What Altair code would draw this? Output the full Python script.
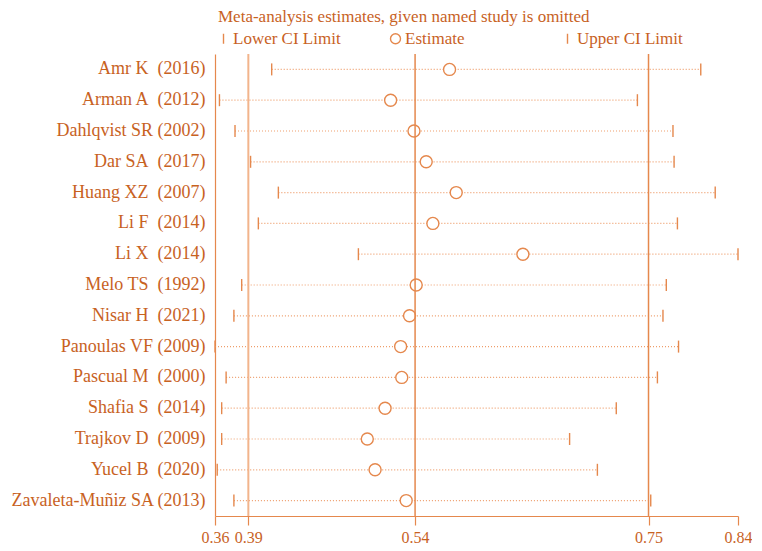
import altair as alt
import pandas as pd

# ---- data ----
names = ["Amr K", "Arman A", "Dahlqvist SR", "Dar SA", "Huang XZ", "Li F", "Li X",
         "Melo TS", "Nisar H", "Panoulas VF", "Pascual M", "Shafia S", "Trajkov D",
         "Yucel B", "Zavaleta-Muñiz SA"]
years = ["2016", "2012", "2002", "2017", "2007", "2014", "2014", "1992", "2021",
         "2009", "2000", "2014", "2009", "2020", "2013"]
double_space = [True, True, False, True, True, True, True, True, True, False,
                True, True, True, True, False]
lower = [0.411, 0.364, 0.378, 0.392, 0.417, 0.399, 0.489, 0.384, 0.377, 0.360,
         0.370, 0.366, 0.366, 0.362, 0.377]
estimate = [0.571, 0.518, 0.539, 0.550, 0.577, 0.556, 0.637, 0.541, 0.535, 0.527,
            0.528, 0.513, 0.497, 0.504, 0.532]
upper = [0.797, 0.740, 0.772, 0.773, 0.810, 0.776, 0.8305, 0.766, 0.763, 0.777,
         0.758, 0.721, 0.679, 0.704, 0.752]
ref_values = [0.39, 0.54, 0.75]          # overall lower CI, estimate, upper CI
tick_values = [0.36, 0.39, 0.54, 0.75, 0.8305]
tick_labels = ["0.36", "0.39", "0.54", "0.75", "0.84"]
legend_names = ["Lower CI Limit", "Estimate", "Upper CI Limit"]
title_text = "Meta-analysis estimates, given named study is omitted"

# ---- styling ----
TXT = "#C8621F"
LINE = "#E5884D"
LIGHT = "#F2B48C"
DOT = "#EE9E6C"
FONT = "Liberation Serif"

labels = [f"{n}\u00a0 ({y})" if d else f"{n} ({y})" for n, y, d in zip(names, years, double_space)]

df = pd.DataFrame({"study": labels, "lower": lower, "estimate": estimate, "upper": upper})
long = df.melt(id_vars="study", value_vars=["lower", "estimate", "upper"],
               var_name="k", value_name="value")
long["kind"] = long["k"].map({"lower": legend_names[0], "estimate": legend_names[1],
                              "upper": legend_names[2]})

refs = pd.DataFrame({"value": ref_values,
                     "col": [LIGHT, LINE, LINE],
                     "w": [2.0, 1.5, 1.5]})

label_expr = " : ".join(f"abs(datum.value - {v}) < 0.001 ? '\u00a0\u00a0{l}'"
                        for v, l in zip(tick_values, tick_labels)) + " : ''"

xscale = alt.Scale(domain=[tick_values[0], tick_values[-1]], nice=False, zero=False)
yenc = alt.Y("study:N", sort=labels, title=None,
             axis=alt.Axis(ticks=False, domain=True, labelFontSize=18,
                           labelPadding=10, minExtent=207, maxExtent=207, labelLimit=300))
xaxis = alt.Axis(values=tick_values, labelExpr=label_expr, title=None, grid=False,
                 tickSize=9, labelFontSize=16, labelPadding=4, labelOverlap=False,
                 labelFlush=False)

dots = alt.Chart(df).mark_rule(color=DOT, strokeDash=[1, 2], strokeWidth=1.2).encode(
    x=alt.X("lower:Q", scale=xscale, axis=xaxis), x2="upper:Q", y=yenc)

blank = alt.Chart(df).mark_point(filled=True, fill="white", strokeWidth=0, size=144,
                                 opacity=1).encode(
    x=alt.X("estimate:Q", scale=xscale), y=alt.Y("study:N", sort=labels))

rules = alt.Chart(refs).mark_rule().encode(
    x=alt.X("value:Q", scale=xscale),
    color=alt.Color("col:N", scale=None),
    strokeWidth=alt.StrokeWidth("w:Q", scale=None))

points = alt.Chart(long).mark_point(filled=False, size=144, strokeWidth=1.4, color=LINE,
                                    opacity=1).encode(
    x=alt.X("value:Q", scale=xscale),
    y=alt.Y("study:N", sort=labels),
    shape=alt.Shape("kind:N",
                    scale=alt.Scale(domain=legend_names,
                                    range=["M0,-1L0,1", "circle", "M0,-1L0,1"]),
                    legend=alt.Legend(orient="top", direction="horizontal", title=None,
                                      columns=3, gridAlign="all", columnPadding=46,
                                      labelFont=FONT, labelFontSize=17, labelColor=TXT,
                                      symbolSize=100, symbolStrokeColor=LINE,
                                      symbolFillColor="transparent",
                                      symbolStrokeWidth=1.4, labelOffset=1,
                                      offset=7, padding=0)))

chart = alt.layer(dots, blank, rules, points).properties(
    width=523, height=462, padding=0,
    title=alt.TitleParams(title_text, anchor="start", frame="group", font=FONT,
                          fontSize=17, fontWeight="normal", color=TXT, offset=4, dx=3),
).configure_view(stroke=None).configure_axis(
    domainColor=LINE, tickColor=LINE, labelColor=TXT, labelFont=FONT,
    domainWidth=1.2, tickWidth=1.2,
)

chart.save("out.html", embed_options={"renderer": "svg", "actions": False})
